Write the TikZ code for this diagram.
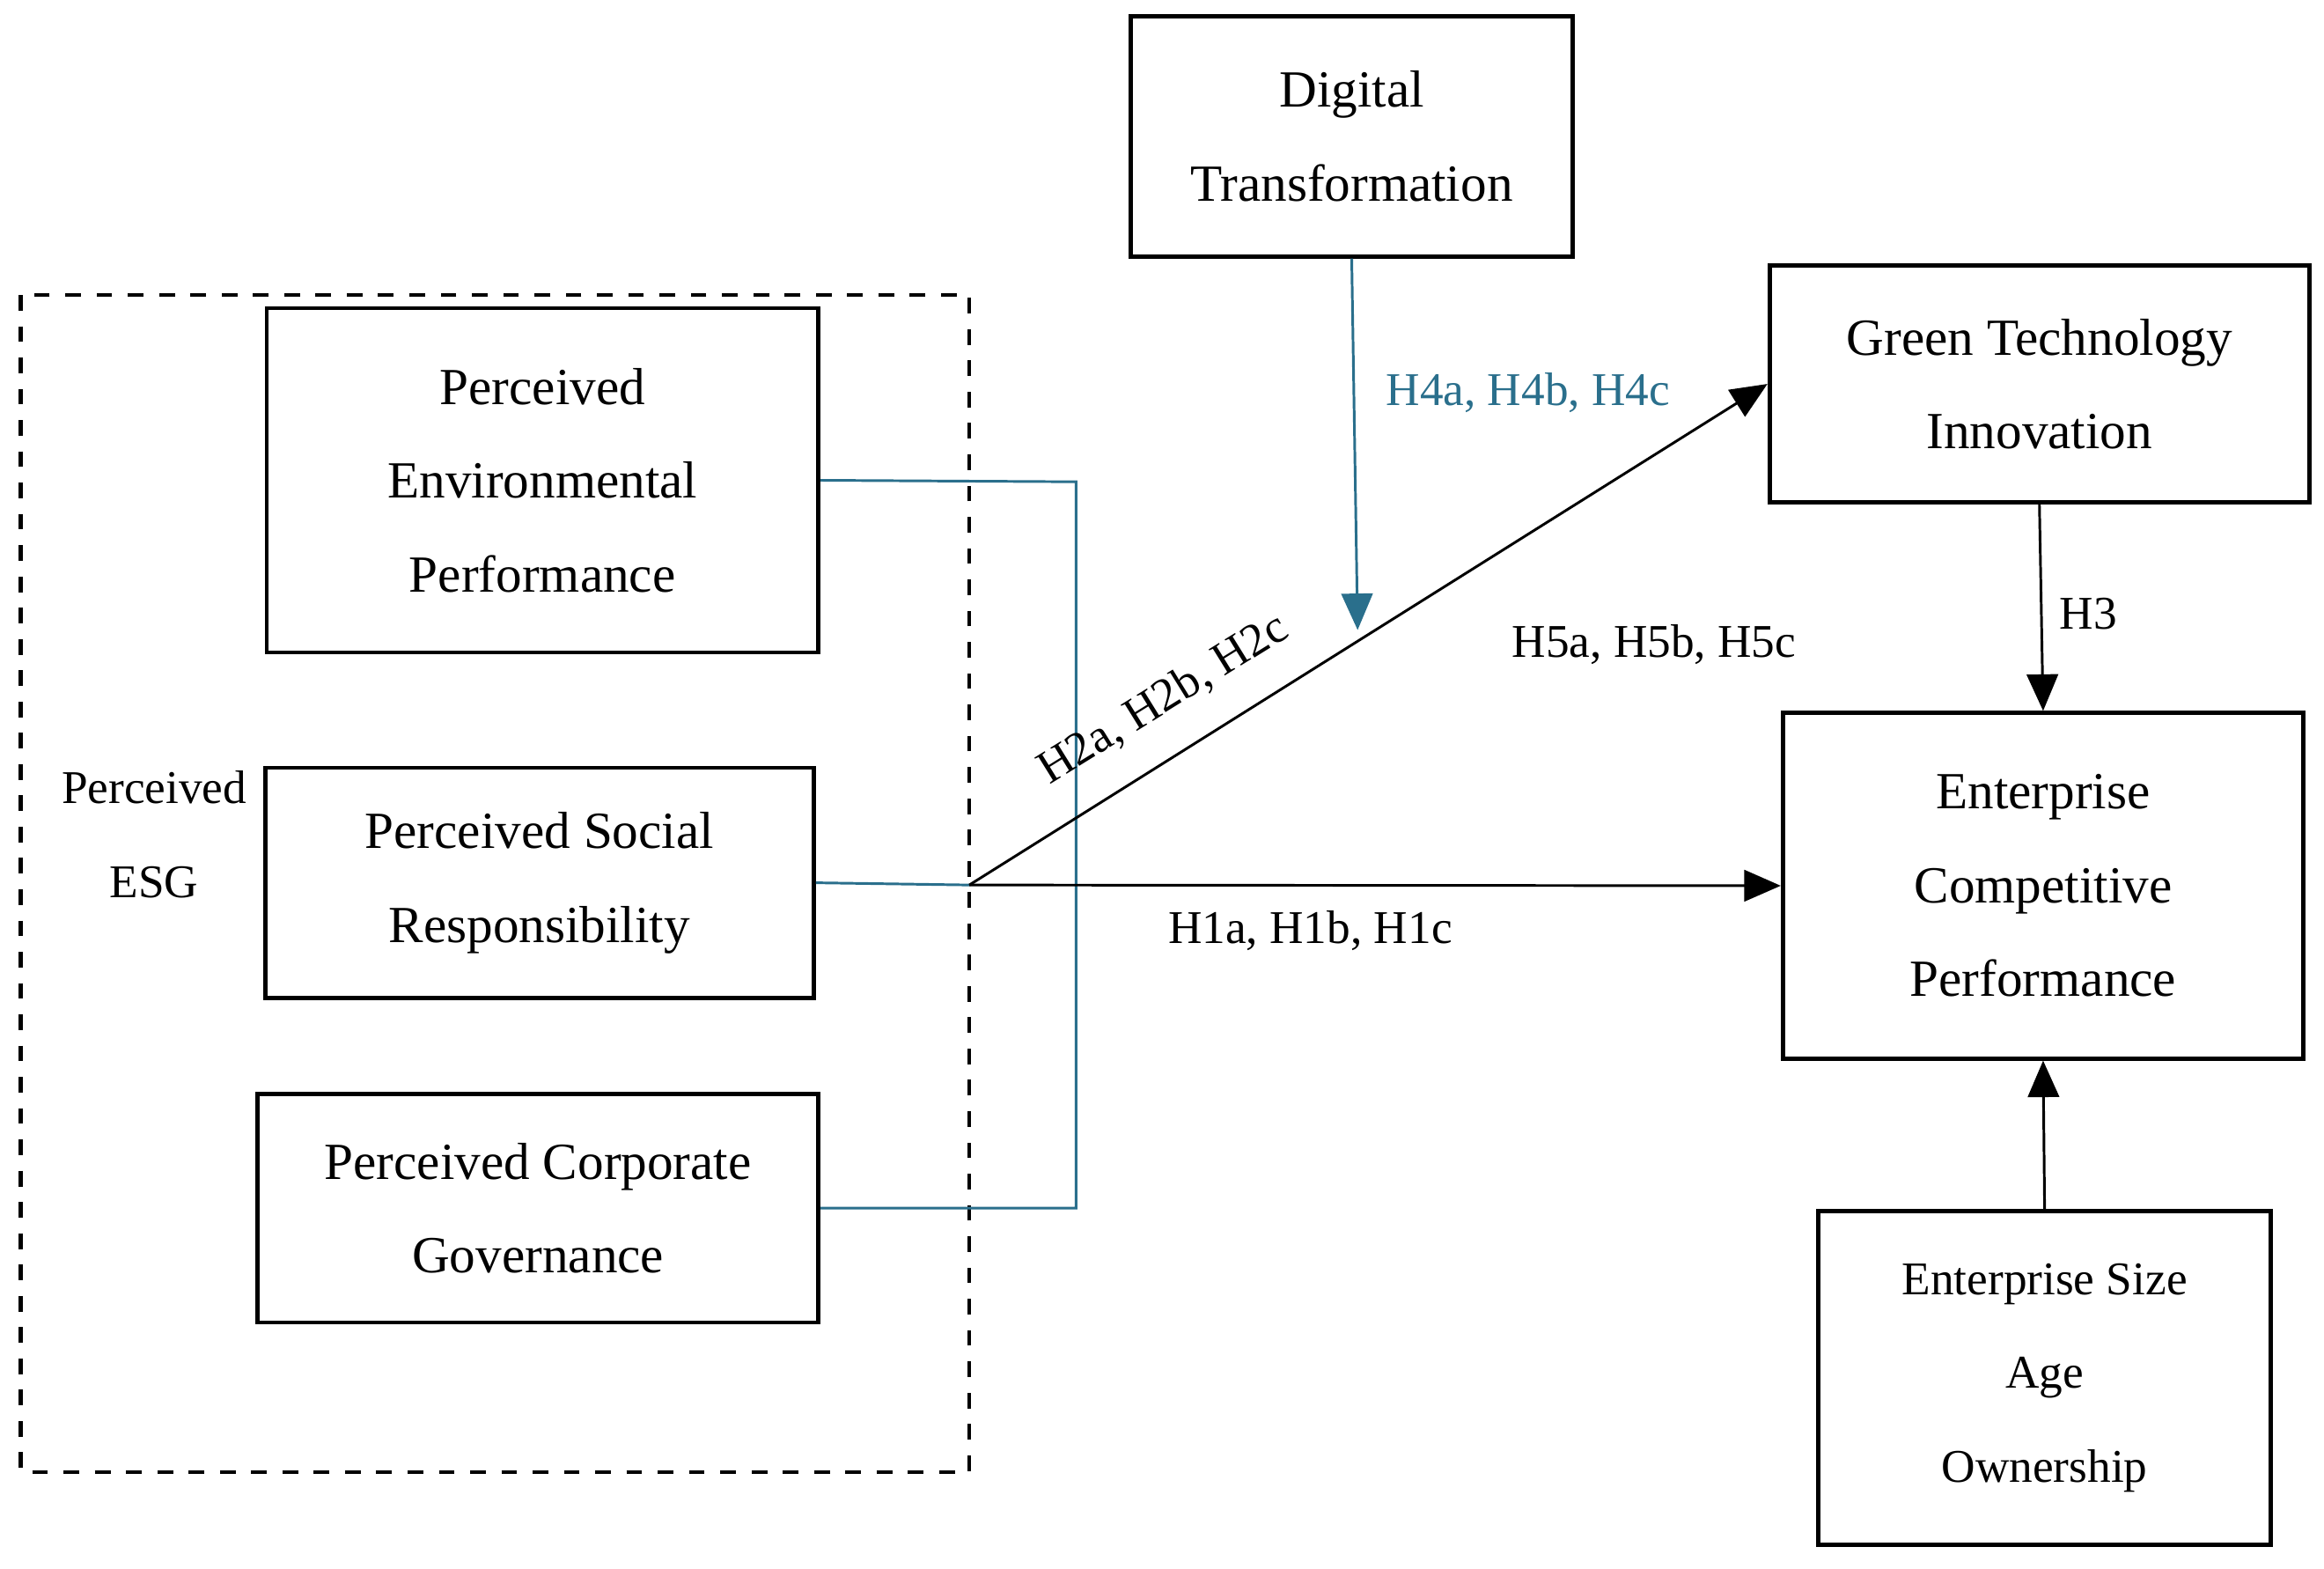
\documentclass[tikz,border=0pt]{standalone}
\usepackage{fontspec}
\setmainfont{Liberation Serif}
\usetikzlibrary{arrows.meta}
\definecolor{teal1}{HTML}{2A6F8C}
\begin{document}
\begin{tikzpicture}[x=0.01cm,y=-0.01cm,
  box/.style={draw,line width=0.8pt,align=center,font=\fontsize{10pt}{18pt}\selectfont,inner sep=0pt},
  lab/.style={font=\fontsize{9pt}{11pt}\selectfont},
  arr/.style={-{Triangle[length=7pt,width=6pt]},line width=0.5pt}]
\useasboundingbox (0,0) rectangle (1568,1058);
\draw[dashed,line width=0.8pt] (14,199) rectangle (654,993);
\node[box,minimum width=2.98cm,minimum height=1.62cm] (dt) at (912,92) {Digital\\Transformation};
\node[box,minimum width=3.64cm,minimum height=1.60cm] (gti) at (1376,259) {Green Technology\\Innovation};
\node[box,minimum width=3.51cm,minimum height=2.33cm] (ecp) at (1378.5,597.5) {Enterprise\\Competitive\\Performance};
\node[box,minimum width=3.05cm,minimum height=2.25cm,font=\fontsize{9pt}{18pt}\selectfont] (ctl) at (1379.5,929.5) {Enterprise Size\\Age\\Ownership};
\node[box,minimum width=3.72cm,minimum height=2.32cm] (pep) at (366,324) {Perceived\\Environmental\\Performance};
\node[box,minimum width=3.70cm,minimum height=1.55cm] (psr) at (364,595.5) {Perceived Social\\Responsibility};
\node[box,minimum width=3.78cm,minimum height=1.54cm] (pcg) at (363,815) {Perceived Corporate\\Governance};
\node[lab,align=center,font=\fontsize{9pt}{18pt}\selectfont] (esg) at (104,563) {Perceived\\ESG};
\coordinate (j) at (654,597);
\coordinate (dtend) at (916,425);
\draw[teal1,line width=0.5pt] (pep.east) -- (726,325) -- (726,815) -- (pcg.east);
\draw[teal1,line width=0.5pt] (psr.east) -- (j);
\draw[arr] (j) -- (ecp.west);
\draw[arr] (j) -- (gti.west);
\draw[arr,teal1] (dt.south) -- (dtend);
\draw[arr] (gti.south) -- (ecp.north);
\draw[arr] (ctl.north) -- (ecp.south);
\node[lab,text=teal1] (l4) at (1031,265) {H4a, H4b, H4c};
\node[lab,rotate=31.8] (l2) at (785,472) {H2a, H2b, H2c};
\node[lab] (l5) at (1116,435) {H5a, H5b, H5c};
\node[lab] (l3) at (1409,414) {H3};
\node[lab] (l1) at (884,628) {H1a, H1b, H1c};
\end{tikzpicture}
\end{document}
